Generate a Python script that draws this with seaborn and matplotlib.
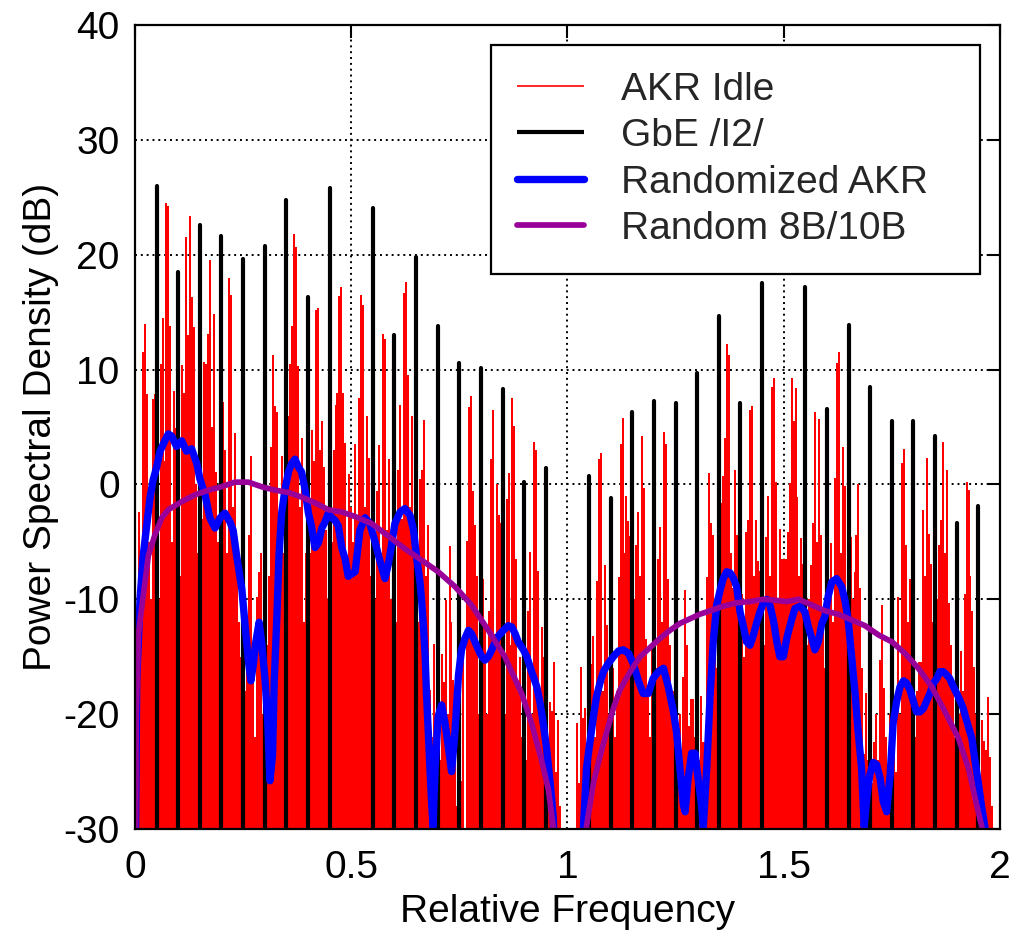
import numpy as np
import pandas as pd
import matplotlib
matplotlib.use("Agg")
import matplotlib.pyplot as plt
import seaborn as sns

# ---------------- data ----------------
x_ticks = [0, 0.5, 1, 1.5, 2]
x_tick_labels = ["0", "0.5", "1", "1.5", "2"]
y_ticks = [-30, -20, -10, 0, 10, 20, 30, 40]

# AKR Idle spectral lines, one every 1/220 of the relative frequency
akr_lines_per_unit = 220
akr_idle_db = [
    -20, -2.4, -12, 11.5, 14, 7.9, -5, -10, 7.4, 7.9, -15,
    -10, 10.5, 14.5, 2, 24.5, 24.2, 13.8, -5, 8.1, 4.9, -12,
    -8, 10.4, 8, 21.5, 13, 23.4, 16.3, 13.7, 0, -6, -14,
    -3, 10.7, 10.5, 13.1, 19.5, 5, 14.8, 1.1, -5, -10, -16,
    7.2, 3, -6, 18, 16.5, -2, 4.5, -8, -12, -15, -18,
    -18, -12, -4.4, 2.5, -15, -22, -9.8, -7.6, -6, -20, -14,
    -14, -8, 3.3, 11.3, 6.8, 6.3, -4, -8, 2.5, -6, -10,
    6, 10.5, 13.8, 21.8, 20.7, 10.3, -2, 4, -12, -6, -12,
    -6, 4.7, 2, 15.2, 15.4, 3, 5.5, 1.5, -4, -10, -14,
    -5, 3, 6.9, 8, 16.4, 17.2, 8, 3.6, -8, 0.9, -2,
    -5, 3.5, -3, 7.5, 16.5, 15.6, -2, 6, 2.3, -8, -12,
    -10, -0.6, 3.4, -6, 13.1, 12.7, -4, 2.2, -10, -14, -12,
    -12, 1.3, 6.9, -3, 16.7, 17.6, 9.5, -2, 6, -5, -15,
    -12, 0.5, 1.3, 5.6, -8, -3.5, -17.9, -22, -13.9, -26, -18,
    -24, -14.8, -17.2, -10.1, -20, -5.4, -12, -17, -22, -28, -18,
    -25.8, -14, -30, -4.9, 6.7, 7.7, -0.6, -3.5, -8, -20, -15,
    -8.2, -12, -20, -11, 2.2, 6.5, -13, 0, -2.7, -3.4, -15,
    -20, -1.3, 1, -14, 7.5, 5.1, -6.5, -18, -15, -22, -18,
    -24, -11, -5.9, -20, 3.7, 3.0, -7.5, -18, -12.4, -15, -20,
    -26, -18.9, -19.7, -15.5, -25, -20.5, -28, -35, -40, -40, -40,
    -40, -40, -35, -32, -20.8, -26, -15.9, -20.3, -19.5, -24, -22,
    -15.6, -13.2, -22, -8.4, 2.2, 2.7, -18, -7, -12.2, -20, -25,
    -16, -22, -18, -8.1, 3.5, 5.8, -6, -1, -3.2, -4.5, -12,
    -10, -5.3, -2.4, -8, 4.2, -0.3, -13.5, -18, -22, -14, -11,
    -16, -6.5, -3.7, -12, 4.6, 3.5, -8.2, -14, -20, -18, -22,
    -25, -20, -24, -16.8, -9.2, -14, -21, -18.7, -18.7, -22, -26,
    -24, -18.4, -22.4, -22.4, -8.1, 1, -3.4, -4.4, -12, -16, -14,
    -1.6, 0.7, 4, 12.2, 11.3, -6, -9, 1.3, -4.4, -12, -14,
    -9.5, -15, -4.1, -3.1, 6.5, 6.8, -8, -3.1, -6.7, -7.5, -12,
    -14, -4.6, -1, -8, 8.5, 9.3, 0.2, -10, -3.9, -6.5, -6.5,
    -6.5, -4.1, 0.1, 9.3, 5.5, 8.4, -1.1, -8, -4.7, -6.9, -12,
    -14, -10, -7, -3.4, 6.3, -5, 5.7, -4.4, -12, -16, -12,
    -10, -5.1, -12, 0.6, 10.6, 11.5, -6, 3.3, -0.1, -10, -14,
    -4.6, -10, -7.6, -4.4, 0, -9, -16, -23.5, -18.2, -24, -20,
    -26, -22.4, -20, -24, -15.3, -10.5, -17.7, -22, -26, -20, -24,
    -20, -25, -9.8, -20, 1.9, 3.1, -5.3, -12, -8.2, -10.3, -16,
    -22, -18, -15.5, -15.5, -2.2, -8, 2.3, -4.3, -6.9, -12, -14,
    -10, -5.3, -3.1, 3.7, -6, 1.3, -10.3, -14, -18, -22, -16,
    -20, -14.5, -18, -9.5, 0.2, -0.5, -8, -11, -15.9, -20, -22,
    -26, -20.5, -22.3, -23.1, -18.5, -23.7, -28, -35, -40, -40,
]

# GbE /I2/ spectral lines, one every 1/20 (None = no visible line)
gbe_lines_per_unit = 20
gbe_i2_db = [
    26.0, 18.5, 22.6, 21.6, 19.6, 20.75, 24.8, 16.3, 25.8, None,
    24.05, 13.0, 19.8, 13.8, 10.6, 10.1, 8.3, 0.2, 1.4, None,
    0.7, -1.2, 6.3, 7.3, 7.1, 9.7, 14.7, 7.1, 17.5, None,
    17.2, 6.6, 13.9, 8.5, 5.5, 5.5, 4.2, -3.4, -1.9,
]

rand_akr_freq = [
    0.000, 0.004, 0.012, 0.019, 0.027, 0.035, 0.042, 0.050, 0.058, 0.069,
    0.077, 0.085, 0.096, 0.108, 0.119, 0.131, 0.143, 0.150, 0.162, 0.173,
    0.185, 0.197, 0.208, 0.220, 0.227, 0.235, 0.247, 0.254, 0.262, 0.268,
    0.274, 0.279, 0.287, 0.293, 0.301, 0.307, 0.312, 0.318, 0.322, 0.328,
    0.333, 0.339, 0.347, 0.355, 0.362, 0.370, 0.378, 0.385, 0.393, 0.401,
    0.408, 0.416, 0.424, 0.432, 0.439, 0.447, 0.455, 0.462, 0.470, 0.478,
    0.486, 0.493, 0.509, 0.520, 0.532, 0.543, 0.555, 0.566, 0.578, 0.586,
    0.593, 0.601, 0.613, 0.624, 0.636, 0.644, 0.651, 0.659, 0.663, 0.667,
    0.671, 0.674, 0.678, 0.684, 0.689, 0.694, 0.701, 0.709, 0.717, 0.724,
    0.732, 0.740, 0.748, 0.755, 0.763, 0.771, 0.778, 0.786, 0.794, 0.802,
    0.809, 0.817, 0.825, 0.833, 0.840, 0.852, 0.863, 0.871, 0.879, 0.886,
    0.898, 0.906, 0.917, 0.929, 0.936, 0.944, 0.952, 0.960, 0.967, 0.973,
    1.030, 1.037, 1.044, 1.052, 1.060, 1.067, 1.075, 1.083, 1.094, 1.106,
    1.118, 1.129, 1.141, 1.152, 1.164, 1.175, 1.187, 1.198, 1.210, 1.222,
    1.233, 1.245, 1.252, 1.260, 1.268, 1.272, 1.279, 1.287, 1.295, 1.302,
    1.310, 1.314, 1.322, 1.330, 1.337, 1.345, 1.353, 1.360, 1.368, 1.376,
    1.383, 1.391, 1.399, 1.407, 1.414, 1.422, 1.430, 1.437, 1.445, 1.453,
    1.461, 1.468, 1.476, 1.484, 1.491, 1.499, 1.507, 1.518, 1.526, 1.538,
    1.549, 1.557, 1.565, 1.572, 1.580, 1.588, 1.595, 1.603, 1.611, 1.622,
    1.634, 1.642, 1.649, 1.657, 1.665, 1.672, 1.680, 1.686, 1.692, 1.699,
    1.707, 1.715, 1.723, 1.730, 1.738, 1.746, 1.753, 1.761, 1.769, 1.777,
    1.784, 1.792, 1.800, 1.807, 1.815, 1.823, 1.830, 1.838, 1.846, 1.854,
    1.861, 1.869, 1.877, 1.884, 1.892, 1.904, 1.915, 1.927, 1.935, 1.942,
    1.950, 1.958, 1.965, 1.972,
]
rand_akr_db = [
    -36, -17, -9.8, -6.2, -3.6, -1.1, 0.4, 1.5, 2.9, 3.8,
    4.4, 4.2, 3.3, 3.8, 2.9, 3.1, 1.8, 0.5, -0.9, -2.9,
    -3.8, -2.9, -2.5, -3.3, -4.0, -6.2, -9.1, -12, -15.3, -17.1,
    -15.6, -13.8, -12, -13.8, -17.1, -20.7, -25.8, -23.6, -17.1, -11.6,
    -6.2, -2.5, -0.4, 1.1, 1.8, 2.2, 1.5, 1.1, -0.4, -2.5,
    -3.6, -5.5, -5.1, -3.8, -3.3, -2.5, -2.9, -3.1, -3.6, -5.5,
    -6.5, -8.0, -7.6, -4.0, -2.9, -3.4, -5.0, -6.6, -8.2, -6.9,
    -5.3, -3.4, -2.4, -2.1, -2.7, -4.0, -6.3, -8.5, -10.2, -12.4,
    -15.0, -18.2, -21.5, -26.3, -29.8, -24.7, -20.2, -19.2, -20.8, -22.7,
    -25.0, -21.5, -16.6, -14.4, -13.4, -12.7, -13.0, -13.7, -14.4, -15.0,
    -15.3, -15.0, -14.4, -13.7, -13.2, -12.7, -12.3, -12.4, -13.0, -13.7,
    -14.4, -15.0, -16.3, -17.6, -18.9, -20.8, -23.1, -26.0, -28.9, -36,
    -36, -29.8, -24.7, -22.4, -20.2, -18.5, -17.3, -16.3, -15.6, -15.0,
    -14.5, -14.4, -14.7, -15.6, -17.1, -18.2, -18.2, -16.9, -16.3, -16.0,
    -17.6, -19.8, -21.5, -24.7, -27.9, -28.5, -25.6, -23.4, -23.4, -25.6,
    -27.9, -29.8, -24.7, -18.2, -13.7, -10.5, -9.2, -8.2, -7.6, -7.7,
    -8.1, -8.9, -11.1, -12.4, -13.7, -14.0, -13.1, -12.1, -11.1, -10.3,
    -10.0, -10.5, -11.8, -13.7, -15.0, -15.0, -13.4, -11.8, -10.8, -10.6,
    -11.1, -12.4, -13.4, -14.4, -13.7, -12.1, -11.5, -9.7, -8.5, -8.2,
    -8.9, -10.2, -11.8, -15.0, -18.2, -21.5, -24.7, -29.8, -27.3, -25.3,
    -24.2, -24.4, -25.6, -27.6, -28.5, -25.3, -20.8, -18.9, -17.6, -17.1,
    -17.3, -17.9, -18.9, -19.8, -19.8, -19.5, -18.9, -18.2, -17.3, -16.9,
    -16.3, -16.3, -16.6, -16.9, -17.6, -18.5, -19.5, -21.1, -22.1, -24.0,
    -26.0, -28.2, -29.8, -36,
]

rand_8b10b_freq = [
    0.000, 0.003, 0.008, 0.015, 0.031, 0.046, 0.062, 0.077, 0.108, 0.139,
    0.170, 0.200, 0.231, 0.262, 0.293, 0.324, 0.355, 0.385, 0.416, 0.447,
    0.478, 0.509, 0.547, 0.586, 0.624, 0.663, 0.701, 0.740, 0.778, 0.817,
    0.855, 0.894, 0.917, 0.940, 0.956, 0.967, 0.974,
    1.038, 1.044, 1.060, 1.075, 1.091, 1.106, 1.121, 1.145, 1.168, 1.191,
    1.214, 1.237, 1.260, 1.283, 1.306, 1.330, 1.360, 1.391, 1.422, 1.453,
    1.484, 1.507, 1.534, 1.565, 1.595, 1.626, 1.657, 1.688, 1.719, 1.750,
    1.780, 1.811, 1.842, 1.873, 1.904, 1.927, 1.946, 1.958, 1.964,
]
rand_8b10b_db = [
    -40, -20, -13, -10.9, -6.2, -4.4, -2.9, -2.2, -1.5, -0.9,
    -0.5, -0.2, 0.2, 0.2, -0.2, -0.5, -0.7, -1.1, -1.6, -2.2,
    -2.4, -2.8, -3.4, -4.5, -5.6, -6.6, -7.6, -8.9, -10.5, -12.7,
    -15.0, -18.2, -20.8, -24.0, -26.6, -29.8, -36,
    -36, -29.8, -26.0, -23.7, -21.5, -19.5, -17.9, -16.3, -15.0, -14.2,
    -13.4, -12.7, -12.1, -11.7, -11.3, -11.0, -10.6, -10.3, -10.2, -10.0,
    -10.1, -10.2, -10.0, -10.5, -11.0, -11.3, -11.8, -12.3, -13.1, -13.7,
    -14.7, -16.0, -17.6, -19.8, -22.1, -24.7, -27.9, -29.8, -36,
]

# ---------------- style ----------------
sns.set_theme(style="white")
plt.rcParams["font.family"] = ["Liberation Sans", "DejaVu Sans"]
plt.rcParams["axes.unicode_minus"] = False
FS = 28

fig = plt.figure(figsize=(10.18, 9.30), dpi=100)
ax = fig.add_axes([0.1326, 0.1086, 0.8497, 0.8645])

akr_freq = np.arange(1, len(akr_idle_db) + 1) / akr_lines_per_unit
akr = pd.DataFrame({"freq": akr_freq, "db": akr_idle_db})
akr = akr[akr["db"] > -33]
gbe_freq = np.arange(1, len(gbe_i2_db) + 1) / gbe_lines_per_unit
gbe = pd.DataFrame({"freq": gbe_freq, "db": gbe_i2_db}).dropna()

red_lines = ax.vlines(akr["freq"], -45, akr["db"], colors="#ff0000",
                      linewidth=1.2, zorder=2, label="AKR Idle",
                      antialiased=False)
black_lines = ax.vlines(gbe["freq"], -45, gbe["db"], colors="black",
                        linewidth=3.0, zorder=3, label="GbE /I2/")
black_lines.set_capstyle("round")

rand_akr = pd.DataFrame({"freq": rand_akr_freq, "db": rand_akr_db})
rand_8b = pd.DataFrame({"freq": rand_8b10b_freq, "db": rand_8b10b_db})
sns.lineplot(data=rand_akr, x="freq", y="db", sort=False, estimator=None,
             color="#0000ff", linewidth=5.3, ax=ax, zorder=4,
             label="Randomized AKR", solid_capstyle="round")
sns.lineplot(data=rand_8b, x="freq", y="db", sort=False, estimator=None,
             color="#990099", linewidth=4.1, ax=ax, zorder=5,
             label="Random 8B/10B", solid_capstyle="round")

ax.set_xlim(0, 2)
ax.set_ylim(-30, 40)
ax.set_xticks(x_ticks)
ax.set_xticklabels(x_tick_labels)
ax.set_yticks(y_ticks)
ax.tick_params(direction="in", length=9, width=1.5, top=True, right=True,
               labelsize=FS, pad=11, colors="black")
ax.tick_params(axis="x", pad=15)
for s in ax.spines.values():
    s.set_color("black")
    s.set_linewidth(1.6)
    s.set_zorder(6)
ax.set_axisbelow(True)
ax.grid(True, color="black", linestyle=(0, (1.0, 2.0)), linewidth=1.4)

ax.set_xlabel("Relative Frequency", fontsize=FS, labelpad=6, color="black")
ax.set_ylabel("Power Spectral Density (dB)", fontsize=FS, labelpad=3, color="black")

handles, labels = ax.get_legend_handles_labels()
order = ["AKR Idle", "GbE /I2/", "Randomized AKR", "Random 8B/10B"]
hmap = dict(zip(labels, handles))
leg = ax.legend([hmap[k] for k in order], order, loc="upper left",
                bbox_to_anchor=(0.4116, 0.0, 0.5653, 0.975), mode="expand",
                fontsize=FS, frameon=True,
                fancybox=False, edgecolor="black", framealpha=1,
                handlelength=1.7, handletextpad=0.95, labelspacing=0.27,
                borderpad=0.68, borderaxespad=0)
leg.get_frame().set_linewidth(1.6)
leg.set_zorder(10)

fig.savefig("out.png", dpi=100)
